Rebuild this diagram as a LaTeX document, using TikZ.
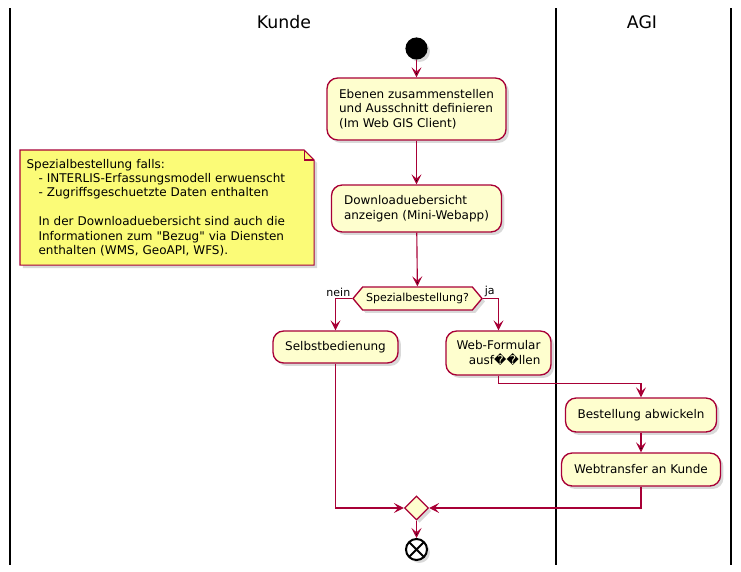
\documentclass[tikz,border=0pt]{standalone}
\usepackage{fontspec}
\setmainfont{DejaVu Sans}[Ligatures = TeXOff]
\usetikzlibrary{arrows.meta,shapes.geometric,shapes.symbols,shadows,backgrounds}
\definecolor{umlred}{HTML}{A80036}
\definecolor{actfill}{HTML}{FEFECE}
\definecolor{notefill}{HTML}{FBFB77}

\begin{document}
\begin{tikzpicture} [x = 0.75pt, y = -0.75pt, line width = 0.85pt, font = \fontsize{9}{10.8}\selectfont,
  umlshadow/.style = {drop shadow = {shadow xshift = 2.2pt, shadow yshift = -2.2pt, opacity = 0.3}},
  activity/.style = {rectangle, rounded corners = 8pt, draw = umlred, fill = actfill, umlshadow, align = left, inner sep = 0pt, line width = 1pt},
  decision/.style = {signal, signal to = east and west, signal pointer angle = 100, draw = umlred, fill = actfill, umlshadow,
    inner sep = 0pt, minimum width = 96.75pt, minimum height = 17.25pt, font = \fontsize{8.25}{10}\selectfont, line width = 1pt},
  merge/.style = {diamond, aspect = 1, draw = umlred, fill = actfill, umlshadow, inner sep = 0pt, minimum size = 18pt, line width = 1pt},
  startdot/.style = {circle, draw, fill = black, umlshadow, inner sep = 0pt, minimum size = 15.75pt},
  stopdot/.style = {circle, draw, fill = white, umlshadow, inner sep = 0pt, minimum size = 15.75pt, line width = 1.5pt,
    path picture = {\draw [line width = 1.5pt] (path picture bounding box.north west) -- (path picture bounding box.south east)
      (path picture bounding box.north east) -- (path picture bounding box.south west);}},
  flow/.style = {draw = umlred, -{Stealth[length = 7.5pt, width = 7.5pt, inset = 3.2pt]}},
  branch/.style = {font = \fontsize{8.25}{10}\selectfont, inner sep = 1pt},
  lane/.style = {line width = 1.5pt},
  lanetitle/.style = {font = \fontsize{13}{15}\selectfont},
  notetext/.style = {anchor = north west, align = left, text width = 210.75pt, inner xsep = 4.5pt, inner ysep = 0pt, minimum height = 85.5pt}]

\useasboundingbox (0,0) rectangle (741,571);

% swimlanes
\draw [lane] (10,8) -- (10,565);
\draw [lane] (556,8) -- (556,565);
\draw [lane] (731,8) -- (731,565);
\node [lanetitle] (kunde) at (284,22) {Kunde};
\node [lanetitle] (agi) at (642,22) {AGI};

% Kunde
\node [startdot] (start) at (416.5,48.5) {};
\node [activity, minimum width = 134.25pt, minimum height = 46.5pt] (ebenen) at (416.5,109) {Ebenen zusammenstellen\\und Ausschnitt definieren\\(Im Web GIS Client)};
\node [activity, minimum width = 127.5pt, minimum height = 35.25pt] (download) at (416.5,208.5) {Downloaduebersicht\\anzeigen (Mini-Webapp)};
\node [decision] (spezial) at (417.5,298.5) {Spezialbestellung?};
\node [activity, minimum width = 93.75pt, minimum height = 24pt] (selbst) at (335.5,347) {Selbstbedienung};
\node [activity, align = right, minimum width = 78.75pt, minimum height = 33pt] (formular) at (498.5,353) {Web-Formular\\ausf��llen};
\node [merge] (merge) at (416.5,508) {};
\node [stopdot] (end) at (416.5,549.5) {};

% AGI
\node [activity, minimum width = 113.25pt, minimum height = 25.5pt] (bestell) at (641,415) {Bestellung abwickeln};
\node [activity, minimum width = 119.25pt, minimum height = 24.75pt] (webtransfer) at (641,469.5) {Webtransfer an Kunde};

% note
\node [notetext] (note) at (20,150) {Spezialbestellung falls:\\
\hspace*{1em}- INTERLIS-Erfassungsmodell erwuenscht\\
\hspace*{1em}- Zugriffsgeschuetzte Daten enthalten\\
\strut\\
\hspace*{1em}In der Downloaduebersicht sind auch die\\
\hspace*{1em}Informationen zum "Bezug" via Diensten\\
\hspace*{1em}enthalten (WMS, GeoAPI, WFS).};
\begin{scope} [on background layer]
\path [draw = umlred, fill = notefill, line width = 0.8pt, umlshadow] (note.north west) -- ([xshift = -7.5pt] note.north east)
  -- ([yshift = -7.5pt] note.north east) -- (note.south east) -- (note.south west) -- cycle;
\draw [umlred, line width = 0.8pt] ([xshift = -7.5pt] note.north east) |- ([yshift = -7.5pt] note.north east);
\end{scope}

% flows
\path [flow] (start) edge (ebenen);
\path [flow] (ebenen) edge (download);
\path [flow] (download) edge (spezial);
\draw [flow] (spezial.west) -| node [pos = 0, anchor = south east, branch] {nein} (selbst.north);
\draw [flow] (spezial.east) -| node [pos = 0, anchor = south west, branch] {ja} (formular.north);
\draw [flow] (formular.south) -- ++(0,8) -| (bestell.north);
\path [flow] (bestell) edge (webtransfer);
\draw [flow] (webtransfer.south) |- (merge.east);
\draw [flow] (selbst.south) |- (merge.west);
\path [flow] (merge) edge (end);

\end{tikzpicture}
\end{document}
